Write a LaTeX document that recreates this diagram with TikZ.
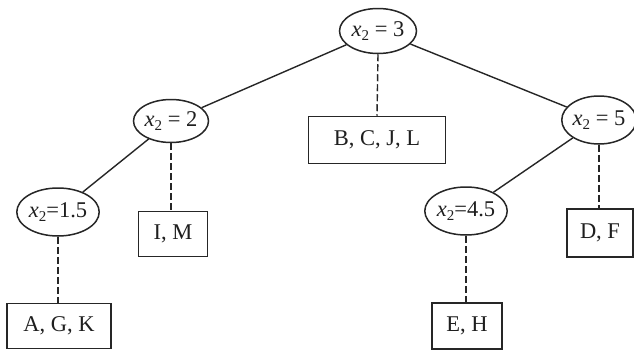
\documentclass[tikz,border=0pt]{standalone}
\usepackage{fontspec}
\setmainfont{Liberation Serif}
\usetikzlibrary{shapes.geometric}

% split variable label: x with subscript 2
\newcommand{\xsub}{\textit{x}\raisebox{-0.4ex}{\fontsize{15}{15}\selectfont 2}}

\tikzset{
  every node/.style={font=\fontsize{22.5}{22.5}\selectfont, text=black!88},
  split/.style={ellipse, draw=black!85, line width=1.5pt, inner sep=0pt},
  leaf/.style={rectangle, draw=black!85, line width=1.5pt, inner sep=0pt},
  branch/.style={line width=1.4pt, draw=black!85},
  member/.style={line width=1.4pt, draw=black!85, dash pattern=on 7pt off 3pt},
}

\begin{document}
\begin{tikzpicture}[x=1pt, y=-1pt]
  \useasboundingbox[fill=white] (0,0) rectangle (634,351);

  % split nodes
  \node[split, minimum width=77pt, minimum height=45pt] (r)  at (378,31)  {\xsub\ = 3};
  \node[split, minimum width=75pt, minimum height=43pt] (l)  at (171,121) {\xsub\ = 2};
  \node[split, minimum width=72pt, minimum height=48pt] (rr) at (599,120) {\xsub\ = 5};
  \node[split, minimum width=74pt, minimum height=48pt] (ll) at (58,212)  {\xsub=1.5};
  \node[split, minimum width=76pt, minimum height=48pt] (rl) at (466,211) {\xsub=4.5};

  % leaf boxes
  \node[leaf, minimum width=137pt, minimum height=47pt] (bcjl) at (377,140) {B, C, J, L};
  \node[leaf, minimum width=69pt,  minimum height=45pt] (im)   at (173,234) {I, M};
  \node[leaf, minimum width=66pt,  minimum height=48pt] (df)   at (600,233) {D, F};
  \node[leaf, minimum width=104pt, minimum height=45pt] (agk)  at (59,326)  {A, G, K};
  \node[leaf, minimum width=70pt,  minimum height=46pt] (eh)   at (467,326) {E, H};

  % branches between splits
  \draw[branch] (r) -- (l);
  \draw[branch] (r) -- (rr);
  \draw[branch] (l) -- (ll);
  \draw[branch] (rr) -- (rl);

  % dashed links to member sets
  \draw[member] (r.south)  -- (bcjl.north);
  \draw[member] (l.south)  -- (l.south |- im.north);
  \draw[member] (rr.south) -- (rr.south |- df.north);
  \draw[member] (ll.south) -- (ll.south |- agk.north);
  \draw[member] (rl.south) -- (rl.south |- eh.north);
\end{tikzpicture}
\end{document}
